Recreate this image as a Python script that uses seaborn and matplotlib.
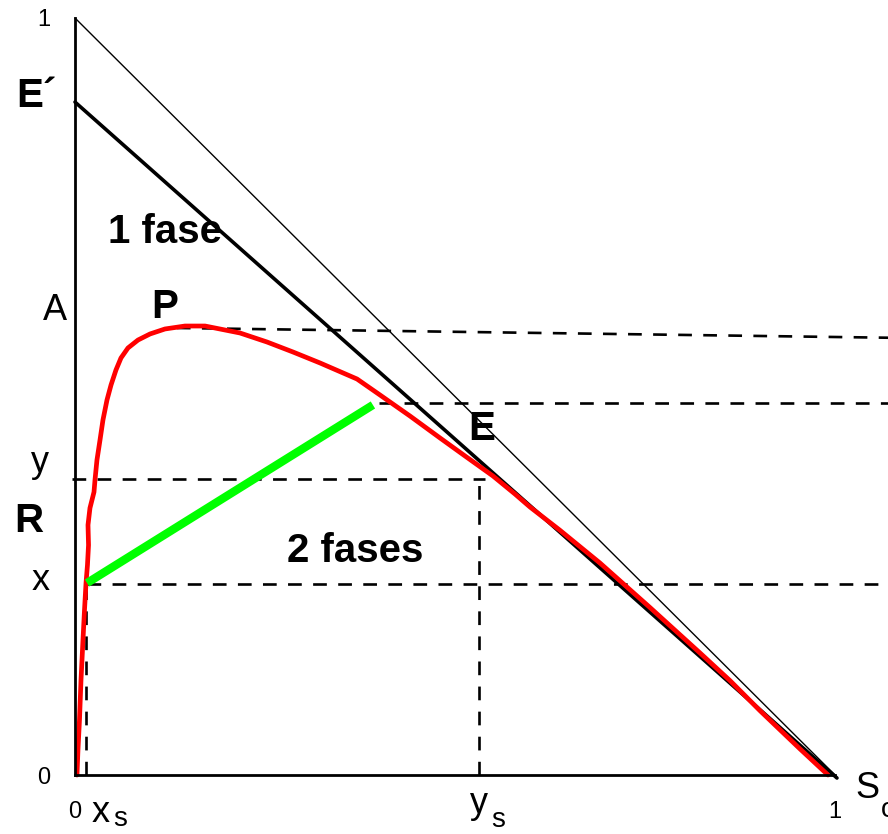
import matplotlib
matplotlib.use("Agg")
import matplotlib.pyplot as plt
import seaborn as sns

# --- diagram data (mass fractions) ---------------------------------------
# binodal curve (red), from the solvent-free corner up over the plait point
binodal_x = [0.0026, 0.0039, 0.0059, 0.0079, 0.0105, 0.0125, 0.0145, 0.0164,
             0.0178, 0.0171, 0.0197, 0.0250, 0.0263, 0.0289, 0.0329, 0.0368,
             0.0421, 0.0474, 0.0539, 0.0605, 0.0697, 0.0829, 0.0987, 0.1184,
             0.1447, 0.1711, 0.2171, 0.2526, 0.2868, 0.3224, 0.3711, 0.4013,
             0.4408, 0.4803, 0.5132, 0.5500, 0.5789, 0.5987, 0.6382, 0.6908,
             0.7566, 0.8224, 0.8618, 0.9013, 0.9539, 0.9908]
binodal_y = [0.0000, 0.0330, 0.0727, 0.1255, 0.1783, 0.2180, 0.2536, 0.2774,
             0.3038, 0.3303, 0.3527, 0.3738, 0.3897, 0.4161, 0.4425, 0.4690,
             0.4954, 0.5152, 0.5350, 0.5509, 0.5641, 0.5746, 0.5826, 0.5892,
             0.5931, 0.5931, 0.5839, 0.5720, 0.5588, 0.5443, 0.5231, 0.5020,
             0.4742, 0.4452, 0.4214, 0.3950, 0.3712, 0.3540, 0.3232, 0.2800,
             0.2212, 0.1612, 0.1247, 0.0850, 0.0345, 0.0000]

# hypotenuse A-S and the E'-S line
hyp_x = [0.0, 1.0]
hyp_y = [1.0, 0.0]
eprime_x = [0.0, 1.0026]
eprime_y = [0.889, -0.004]

# tie line R-E (green)
tie_x = [0.0158, 0.392]
tie_y = [0.2536, 0.4888]

# dashed guide lines
guide_p_x = [0.134, 1.08]
guide_p_y = [0.5905, 0.5775]
guide_e_x = [0.400, 1.08]
guide_e_y = [0.4914, 0.4914]
guide_y_x = [-0.004, 0.540]
guide_y_y = [0.391, 0.391]
guide_ys_x = [0.5316, 0.5316]
guide_ys_y = [0.0, 0.391]
guide_x_x = [0.0158, 1.08]
guide_x_y = [0.2523, 0.2523]
guide_xs_x = [0.0145, 0.0145]
guide_xs_y = [0.0, 0.2523]

tick_major = [0, 1]
tick_labels = ["0", "1"]
y_minor = [0.211, 0.5]
x_minor = [0.5]

# --- figure --------------------------------------------------------------
sns.set_theme(style="white")
plt.rcParams["font.family"] = ["Liberation Sans", "DejaVu Sans"]

fig = plt.figure(figsize=(8.88, 8.34), dpi=100)
ax = fig.add_axes([75 / 888, 59 / 834, 760 / 888, 757 / 834])


def draw(x, y, **kw):
    sns.lineplot(x=x, y=y, sort=False, estimator=None, ax=ax, **kw)


dash_kw = dict(color="black", lw=1.9, linestyle=(0, (5.2, 4.3)))
for gx, gy in [(guide_p_x, guide_p_y), (guide_e_x, guide_e_y),
               (guide_y_x, guide_y_y), (guide_ys_x, guide_ys_y),
               (guide_x_x, guide_x_y), (guide_xs_x, guide_xs_y)]:
    draw(gx, gy, **dash_kw)

draw(hyp_x, hyp_y, color="black", lw=1.0)
draw(eprime_x, eprime_y, color="black", lw=2.6)
draw(binodal_x, binodal_y, color="#ff0000", lw=3.4, solid_joinstyle="round")
draw(tie_x, tie_y, color="#00ff00", lw=6.0, solid_capstyle="butt")

for ln in ax.lines:
    ln.set_clip_on(False)

ax.set_xlim(0, 1)
ax.set_ylim(0, 1)
sns.despine(ax=ax)
for side in ("left", "bottom"):
    ax.spines[side].set_linewidth(2.0)
    ax.spines[side].set_color("black")

ax.set_xticks(tick_major)
ax.set_xticklabels(tick_labels, fontsize=17)
ax.set_yticks(tick_major)
ax.set_yticklabels(tick_labels, fontsize=17)
ax.set_xticks(x_minor, minor=True)
ax.set_yticks(y_minor, minor=True)
ax.tick_params(axis="both", which="major", direction="out", length=10.8,
               width=1.8, color="black", labelcolor="black")
ax.tick_params(axis="y", which="major", pad=7)
ax.tick_params(axis="x", which="major", pad=8)
ax.tick_params(axis="both", which="minor", direction="out", length=5.5,
               width=1.8, color="black")
ax.grid(False)

# --- labels --------------------------------------------------------------
bold = dict(fontsize=29, fontweight="bold", color="black", clip_on=False)
reg = dict(fontsize=26, color="black", clip_on=False)
sub = dict(fontsize=20, color="black", clip_on=False)

ax.text(-0.0513, 0.8824, "E\u00b4", ha="center", va="baseline", **bold)
ax.text(0.1184, 0.7028, "1 fase", ha="center", va="baseline", **bold)
ax.text(0.3684, 0.2814, "2 fases", ha="center", va="baseline", **bold)
ax.text(0.1184, 0.6037, "P", ha="center", va="baseline", **bold)
ax.text(0.5355, 0.4425, "E", ha="center", va="baseline", **bold)
ax.text(-0.0605, 0.3210, "R", ha="center", va="baseline", **bold)

ax.text(-0.0263, 0.6010, "A", ha="center", va="baseline", **reg)
ax.text(-0.0460, 0.4003, "y", ha="center", va="baseline", **reg)
ax.text(-0.0447, 0.2444, "x", ha="center", va="baseline", **reg)

ax.text(0.0224, -0.0621, "x", ha="left", va="baseline", **reg)
ax.text(0.0500, -0.0680, "s", ha="left", va="baseline", **sub)
ax.text(0.5197, -0.0502, "y", ha="left", va="baseline", **reg)
ax.text(0.5474, -0.0687, "s", ha="left", va="baseline", **sub)
ax.text(1.0263, -0.0304, "S", ha="left", va="baseline", **reg)
ax.text(1.0600, -0.0555, "o", ha="left", va="baseline", **sub)

fig.savefig("out.png", dpi=100)
